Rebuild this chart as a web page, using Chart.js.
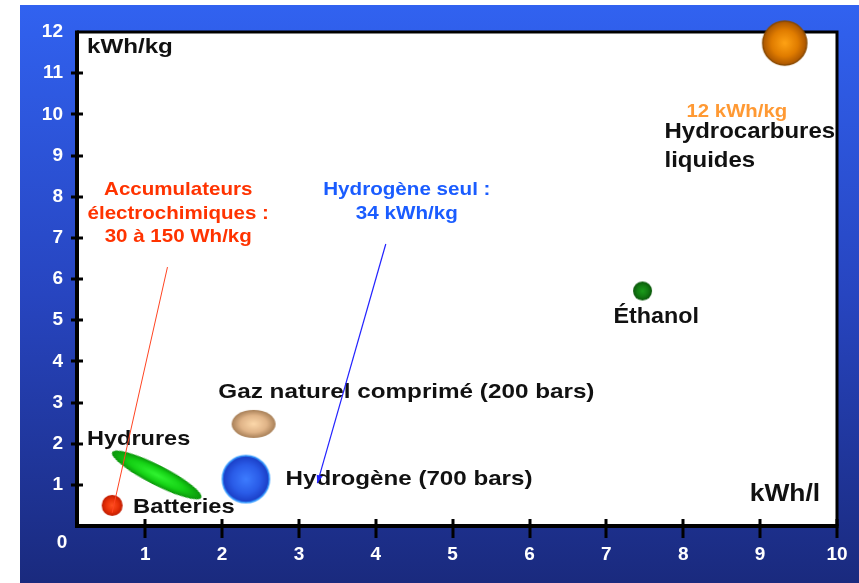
<!DOCTYPE html>
<html><head><meta charset="utf-8">
<script src="https://cdn.jsdelivr.net/npm/chart.js@4/dist/chart.umd.min.js"></script>
<style>html,body{margin:0;padding:0;background:#fff;overflow:hidden}</style>
</head><body>
<canvas id="c" width="859" height="583"></canvas>
<script>
// ---- data ----
const categories = ['Batteries', 'Hydrures', 'Gaz naturel comprimé (200 bars)', 'Hydrogène (700 bars)', 'Éthanol', 'Hydrocarbures liquides'];
const energyPerLitre = [0.57, 1.15, 2.41, 2.31, 7.47, 9.32];   // kWh/l
const energyPerKg    = [0.50, 1.24, 2.48, 1.14, 5.71, 11.73];  // kWh/kg
const xTickLabels = ['1','2','3','4','5','6','7','8','9','10'];
const yTickLabels = ['1','2','3','4','5','6','7','8','9','10','11','12'];
const originLabel = '0';
const xUnit = 'kWh/l';
const yUnit = 'kWh/kg';

// annotation texts (anchored in data units)
const noteTexts = [
  {t: yUnit, x: 0.243, y: 11.49, size: 21, s: 1.15, c: '#111', a: 'left'},
  {t: xUnit, x: 8.865, y: 0.607, size: 24, s: 1.1, c: '#111', a: 'left'},
  {t: '12 kWh/kg', x: 8.043, y: 9.934, size: 19, s: 1.07, c: '#ff9933', a: 'left'},
  {t: 'Hydrocarbures', x: 7.756, y: 9.424, size: 22, s: 1.09, c: '#111', a: 'left'},
  {t: 'liquides', x: 7.756, y: 8.72, size: 22, s: 1.09, c: '#111', a: 'left'},
  {t: 'Éthanol', x: 7.091, y: 4.931, size: 22, s: 1.06, c: '#111', a: 'left'},
  {t: 'Gaz naturel comprimé (200 bars)', x: 1.952, y: 3.109, size: 21, s: 1.155, c: '#111', a: 'left'},
  {t: 'Hydrogène (700 bars)', x: 2.826, y: 0.996, size: 21, s: 1.15, c: '#111', a: 'left'},
  {t: 'Hydrures', x: 0.243, y: 1.967, size: 21, s: 1.12, c: '#111', a: 'left'},
  {t: 'Batteries', x: 0.843, y: 0.316, size: 21, s: 1.13, c: '#111', a: 'left'},
  {t: 'Accumulateurs', x: 1.43, y: 8.04, size: 19, s: 1.08, c: '#ff3300', a: 'center'},
  {t: 'électrochimiques :', x: 1.43, y: 7.457, size: 19, s: 1.08, c: '#ff3300', a: 'center'},
  {t: '30 à 150 Wh/kg', x: 1.43, y: 6.898, size: 19, s: 1.08, c: '#ff3300', a: 'center'},
  {t: 'Hydrogène seul :', x: 4.404, y: 8.04, size: 19, s: 1.085, c: '#1a5cff', a: 'center'},
  {t: '34 kWh/kg', x: 4.404, y: 7.457, size: 19, s: 1.085, c: '#1a5cff', a: 'center'}
];
const noteLines = [
  {x1: 1.29, y1: 6.29, x2: 0.57, y2: 0.32, c: '#ff4422', w: 1, arrow: false},
  {x1: 4.13, y1: 6.85, x2: 3.24, y2: 1.04, c: '#2222ff', w: 1.2, arrow: true}
];

// marker appearance (one per category)
const markerStyles = [
  {rx: 10.5, ry: 10.5, rot: 0, stops: ['#ff5020', '#e83008', '#c01c00'], edge: null},
  {rx: 50, ry: 10, rot: 27, stops: ['#30f430', '#14d014', '#0a940a'], edge: null},
  {rx: 22, ry: 14, rot: 0, stops: ['#fcd8aa', '#e0b488', '#a88058'], edge: null},
  {rx: 23.5, ry: 23.5, rot: 0, stops: ['#3d7cff', '#2a5ce8', '#1a3cc4'], edge: '#3399ff'},
  {rx: 9.5, ry: 9.5, rot: 0, stops: ['#1c9c1c', '#127a12', '#0a560a'], edge: null},
  {rx: 22, ry: 22, rot: 0, stops: ['#ffa214', '#e07c00', '#a85400'], edge: '#8a4a00'}
];

function makeBlob(st) {
  const pad = 3;
  const W = Math.ceil(st.rx * 2 + pad * 2), H = Math.ceil(st.ry * 2 + pad * 2);
  const cv = document.createElement('canvas');
  cv.width = W; cv.height = H;
  const g = cv.getContext('2d');
  g.save();
  g.translate(W / 2, H / 2);
  g.scale(1, st.ry / st.rx);
  const gr = g.createRadialGradient(0, 0, 0, 0, 0, st.rx);
  gr.addColorStop(0, st.stops[0]);
  gr.addColorStop(0.6, st.stops[1]);
  gr.addColorStop(1, st.stops[2]);
  g.beginPath();
  g.arc(0, 0, st.rx, 0, Math.PI * 2);
  g.fillStyle = gr;
  g.fill();
  g.restore();
  if (st.edge) {
    g.beginPath();
    g.ellipse(W / 2, H / 2, st.rx, st.ry, 0, 0, Math.PI * 2);
    g.strokeStyle = st.edge; g.lineWidth = 1.5; g.stroke();
  }
  return cv;
}
const blobs = markerStyles.map(makeBlob);

const FONT = '"Liberation Sans", Arial, sans-serif';

const framePlugin = {
  id: 'frame',
  beforeDraw(chart) {
    const ctx = chart.ctx, a = chart.chartArea;
    ctx.save();
    ctx.fillStyle = '#fff';
    ctx.fillRect(0, 0, chart.width, chart.height);
    const gr = ctx.createLinearGradient(0, 5, 0, chart.height);
    gr.addColorStop(0, '#3162f0');
    gr.addColorStop(0.5, '#2745c0');
    gr.addColorStop(1, '#1a2a7e');
    ctx.fillStyle = gr;
    ctx.fillRect(20, 5, chart.width - 20, chart.height - 5);
    ctx.fillStyle = '#fff';
    ctx.fillRect(a.left, a.top, a.right - a.left, a.bottom - a.top);
    ctx.restore();
  },
  beforeDatasetsDraw(chart) {
    const ctx = chart.ctx, a = chart.chartArea, xs = chart.scales.x, ys = chart.scales.y;
    ctx.save();
    ctx.strokeStyle = '#000';
    ctx.lineWidth = 3;
    ctx.beginPath();
    ctx.moveTo(a.left, a.top); ctx.lineTo(a.right, a.top); ctx.lineTo(a.right, a.bottom);
    ctx.stroke();
    ctx.lineWidth = 4;
    ctx.beginPath();
    ctx.moveTo(a.left, a.top - 1.5); ctx.lineTo(a.left, a.bottom); ctx.lineTo(a.right + 1.5, a.bottom);
    ctx.stroke();
    ctx.lineWidth = 3;
    xTickLabels.forEach(v => {
      const px = Math.round(xs.getPixelForValue(+v));
      ctx.beginPath(); ctx.moveTo(px, a.bottom - 7); ctx.lineTo(px, a.bottom + 12); ctx.stroke();
    });
    yTickLabels.slice(0, -1).forEach(v => {
      const py = Math.round(ys.getPixelForValue(+v));
      ctx.beginPath(); ctx.moveTo(a.left - 6, py); ctx.lineTo(a.left + 6, py); ctx.stroke();
    });
    ctx.fillStyle = '#fff';
    ctx.font = 'bold 19px ' + FONT;
    ctx.textAlign = 'center'; ctx.textBaseline = 'middle';
    ctx.fillText(originLabel, a.left - 15, a.bottom + 17);
    ctx.restore();
  },
  afterDatasetsDraw(chart) {
    const ctx = chart.ctx, xs = chart.scales.x, ys = chart.scales.y;
    ctx.save();
    noteTexts.forEach(n => {
      ctx.save();
      ctx.translate(xs.getPixelForValue(n.x), ys.getPixelForValue(n.y));
      ctx.scale(n.s, 1);
      ctx.font = 'bold ' + n.size + 'px ' + FONT;
      ctx.fillStyle = n.c;
      ctx.textAlign = n.a;
      ctx.textBaseline = 'alphabetic';
      ctx.fillText(n.t, 0, 0);
      ctx.restore();
    });
    noteLines.forEach(l => {
      const x1 = xs.getPixelForValue(l.x1), y1 = ys.getPixelForValue(l.y1);
      const x2 = xs.getPixelForValue(l.x2), y2 = ys.getPixelForValue(l.y2);
      ctx.strokeStyle = l.c; ctx.lineWidth = l.w;
      ctx.beginPath(); ctx.moveTo(x1, y1); ctx.lineTo(x2, y2); ctx.stroke();
      if (l.arrow) {
        const ang = Math.atan2(y2 - y1, x2 - x1), L = 8, Wd = 3;
        ctx.fillStyle = l.c;
        ctx.beginPath();
        ctx.moveTo(x2, y2);
        ctx.lineTo(x2 - L * Math.cos(ang) + Wd * Math.sin(ang), y2 - L * Math.sin(ang) - Wd * Math.cos(ang));
        ctx.lineTo(x2 - L * Math.cos(ang) - Wd * Math.sin(ang), y2 - L * Math.sin(ang) + Wd * Math.cos(ang));
        ctx.closePath(); ctx.fill();
      }
    });
    ctx.restore();
  }
};

new Chart(document.getElementById('c'), {
  type: 'scatter',
  data: {
    labels: categories,
    datasets: [{
      label: 'Énergie',
      data: categories.map((c, i) => ({x: energyPerLitre[i], y: energyPerKg[i]})),
      pointStyle: blobs,
      pointRotation: markerStyles.map(s => s.rot),
      pointRadius: markerStyles.map(s => s.rx),
      pointHoverRadius: markerStyles.map(s => s.rx),
      clip: false
    }]
  },
  options: {
    responsive: false,
    devicePixelRatio: 1,
    animation: false,
    events: [],
    layout: {autoPadding: false, padding: {top: 32, right: 22, left: 0, bottom: 0}},
    plugins: {legend: {display: false}, tooltip: {enabled: false}},
    scales: {
      x: {
        type: 'linear', min: 0.113, max: 10,
        afterBuildTicks: s => { s.ticks = xTickLabels.map(v => ({value: +v})); },
        afterFit: s => { s.height = 57; s.paddingLeft = 0; s.paddingRight = 0; },
        grid: {display: false, tickLength: 0}, border: {display: false},
        ticks: {color: '#fff', font: {family: FONT, size: 19, weight: 'bold'}, padding: 17,
                autoSkip: false, maxRotation: 0, callback: (v, i) => xTickLabels[i]}
      },
      y: {
        type: 'linear', min: 0, max: 12,
        afterBuildTicks: s => { s.ticks = yTickLabels.map(v => ({value: +v})); },
        afterFit: s => { s.width = 77; s.paddingTop = 0; s.paddingBottom = 0; },
        grid: {display: false, tickLength: 0}, border: {display: false},
        ticks: {color: '#fff', font: {family: FONT, size: 19, weight: 'bold'}, padding: 14,
                autoSkip: false, callback: (v, i) => yTickLabels[i]}
      }
    }
  },
  plugins: [framePlugin]
});
</script>
</body></html>
